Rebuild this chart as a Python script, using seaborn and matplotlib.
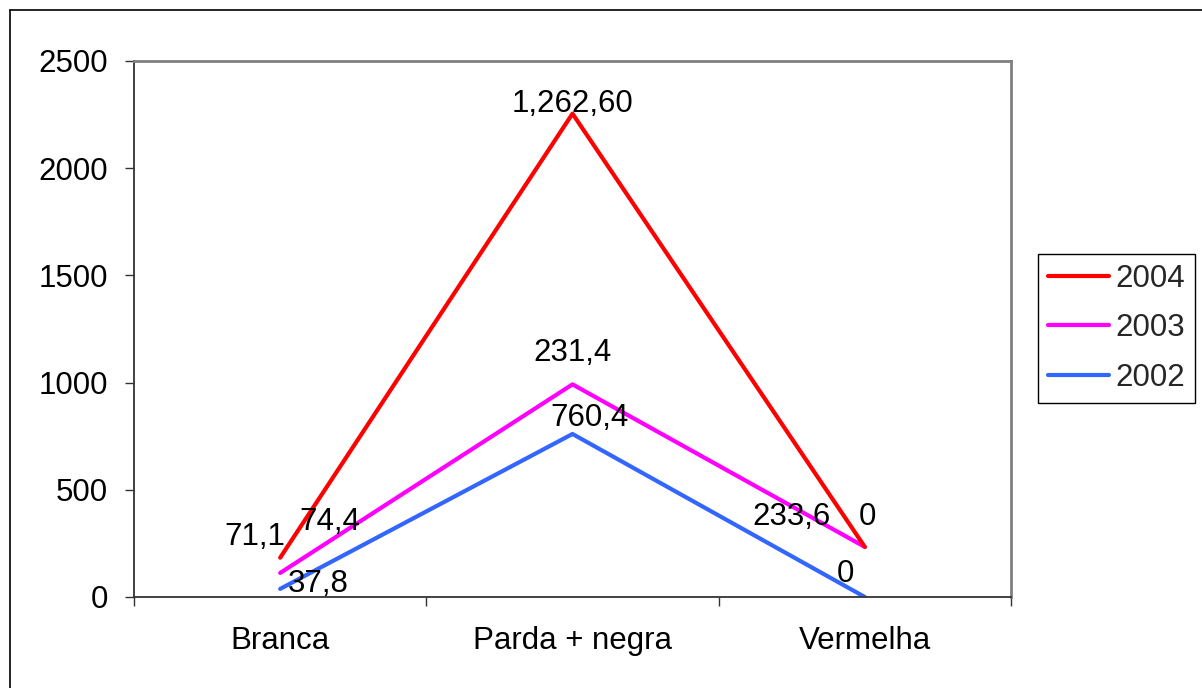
import matplotlib
matplotlib.use("Agg")
import matplotlib.pyplot as plt
from matplotlib.lines import Line2D
import seaborn as sns
import pandas as pd
import numpy as np

# Categories and per-year values (series are stacked on top of each other)
categories = ["Branca", "Parda + negra", "Vermelha"]
years = ["2002", "2003", "2004"]
values_2002 = [37.8, 760.4, 0.0]
values_2003 = [74.4, 231.4, 233.6]
values_2004 = [71.1, 1262.60, 0.0]
labels_2002 = ["37,8", "760,4", "0"]
labels_2003 = ["74,4", "231,4", "233,6"]
labels_2004 = ["71,1", "1,262,60", "0"]
y_ticks = [0, 500, 1000, 1500, 2000, 2500]

colors = {"2004": "#FF0000", "2003": "#FF00FF", "2002": "#3366FF"}

labels = {"2002": labels_2002, "2003": labels_2003, "2004": labels_2004}

# Cumulative (stacked) values
stack = np.cumsum(np.array([values_2002, values_2003, values_2004]), axis=0)
rows = []
for yi, yr in enumerate(years):
    for ci, cat in enumerate(categories):
        rows.append({"cat": ci, "year": yr, "total": stack[yi, ci]})
df = pd.DataFrame(rows)

sns.set_style("white")
plt.rcParams["font.family"] = ["Liberation Sans", "DejaVu Sans"]
FS = 22.5

W, H = 1202, 688
fig = plt.figure(figsize=(W / 100, H / 100), dpi=100)
ax = fig.add_axes([134 / W, (H - 597) / H, (1011 - 134) / W, (597 - 61) / H])

sns.lineplot(data=df, x="cat", y="total", hue="year", palette=colors,
             hue_order=years, linewidth=3, ax=ax, legend=False, sort=False)
for ln in ax.lines:
    ln.set_solid_capstyle("round")

# Value labels placed around each stacked point (offsets in pixels)
offsets = {
    "2004": [(-25, 21), (0, 10), (3, 30)],
    "2003": [(50, 51), (0, 31), (-73, 30)],
    "2002": [(38, 5), (17, 16), (-19, 23)],
}
for yi, yr in enumerate(years):
    for ci in range(len(categories)):
        ax.annotate(labels[yr][ci], (ci, stack[yi, ci]),
                    xytext=offsets[yr][ci], textcoords="offset pixels",
                    ha="center", va="center", fontsize=FS, color="black")

ax.set_xlim(-0.5, len(categories) - 0.5)
ax.set_ylim(0, 2500)
ax.set_yticks(y_ticks)
ax.set_yticklabels([str(t) for t in y_ticks], fontsize=FS)
ax.tick_params(axis="y", direction="out", length=6.5, width=1, pad=12,
               left=True, colors="#333333", labelcolor="black")

# Category boundaries as major ticks, names as minor ticks
ax.set_xticks(np.arange(-0.5, len(categories), 1.0))
ax.set_xticklabels([])
ax.set_xticks(range(len(categories)), minor=True)
ax.set_xticklabels(categories, minor=True, fontsize=FS)
ax.tick_params(axis="x", which="major", direction="out", length=6.5, width=1,
               bottom=True, colors="#333333")
ax.tick_params(axis="x", which="minor", length=0, pad=21, labelcolor="black")
ax.set_xlabel("")
ax.set_ylabel("")

for s in ["left", "bottom"]:
    ax.spines[s].set_color("#333333")
    ax.spines[s].set_linewidth(1.3)
for s in ["top", "right"]:
    ax.spines[s].set_visible(True)
    ax.spines[s].set_color("#808080")
    ax.spines[s].set_linewidth(2)

handles = [Line2D([0], [0], color=colors[y], lw=3, solid_capstyle="round")
           for y in ["2004", "2003", "2002"]]
leg = fig.legend(handles, ["2004", "2003", "2002"], loc="upper left",
                 bbox_to_anchor=(1038 / W, 1 - 254 / H), fontsize=FS,
                 frameon=True, fancybox=False, framealpha=1,
                 edgecolor="black", handlelength=1.95, handletextpad=0.2,
                 labelspacing=0.62, borderpad=0.32, borderaxespad=0)
leg.get_frame().set_linewidth(1.0)

# Outer chart frame (left and top edges)
fig.add_artist(Line2D([10 / W, 10 / W], [0, 1 - 10 / H], color="black",
                      lw=1.2, transform=fig.transFigure))
fig.add_artist(Line2D([10 / W, 1], [1 - 10 / H, 1 - 10 / H], color="black",
                      lw=1.2, transform=fig.transFigure))

fig.savefig("out.png", dpi=100)
